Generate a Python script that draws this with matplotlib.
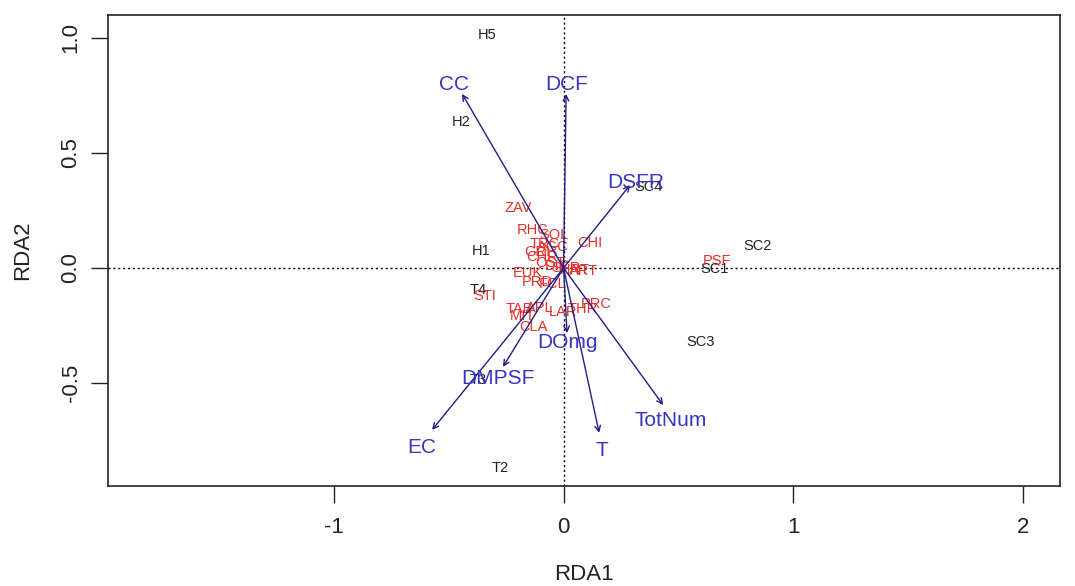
import matplotlib
matplotlib.use("Agg")
import matplotlib.pyplot as plt

# site scores (black labels)
sites = ["H5", "H2", "H1", "SC4", "SC2", "SC1", "SC3", "T4", "T3", "T2"]
site_x = [-0.333, -0.447, -0.359, 0.368, 0.843, 0.658, 0.595, -0.373, -0.373, -0.277]
site_y = [1.013, 0.635, 0.074, 0.352, 0.096, -0.004, -0.322, -0.096, -0.487, -0.870]

# species scores (red labels)
species = ["ZAV", "RHC", "SOL", "CHI", "TRC", "AGC", "GRI", "CHR", "OST", "DIC",
           "SFR", "HRT", "ART", "EUK", "PRD", "FCL", "STI", "TAB", "APL", "MIT",
           "LAR", "THR", "PRC", "CLA", "PSF"]
spec_x = [-0.198, -0.137, -0.041, 0.115, -0.081, -0.046, -0.115, -0.094, -0.059, -0.028,
          0.011, 0.050, 0.089, -0.155, -0.115, -0.046, -0.342, -0.194, -0.102, -0.181,
          -0.002, 0.085, 0.142, -0.133, 0.669]
spec_y = [0.261, 0.165, 0.143, 0.109, 0.104, 0.091, 0.070, 0.048, 0.022, 0.009,
          0.000, -0.009, -0.013, -0.022, -0.061, -0.070, -0.122, -0.178, -0.174, -0.209,
          -0.191, -0.178, -0.157, -0.257, 0.030]

# environmental vectors (blue arrows)
env = ["CC", "DCF", "DSFR", "TotNum", "T", "EC", "DMPSF", "DOmg"]
env_x = [-0.442, 0.011, 0.290, 0.434, 0.155, -0.573, -0.264, 0.015]
env_y = [0.757, 0.757, 0.361, -0.596, -0.717, -0.704, -0.430, -0.283]

font = ["Liberation Sans Narrow", "Liberation Sans", "DejaVu Sans"]
plt.rcParams["font.family"] = font

fig = plt.figure(figsize=(10.75, 5.86), dpi=100)
ax = fig.add_axes([108 / 1075, 1 - 486 / 586, 952 / 1075, 471 / 586])
ax.set_xlim(-1.985, 2.163)
ax.set_ylim(-0.948, 1.10)

ax.axhline(0, color="black", lw=1, ls=(0, (1.5, 2)))
ax.axvline(0, color="black", lw=1, ls=(0, (1.5, 2)))

for lab, x, y in zip(sites, site_x, site_y):
    ax.text(x, y, lab, color="#222222", fontsize=10.5, ha="center", va="center")

for lab, x, y in zip(species, spec_x, spec_y):
    ax.text(x, y, lab, color="#e0302a", fontsize=10.5, ha="center", va="center")

mul = 1.08
for lab, x, y in zip(env, env_x, env_y):
    ax.annotate("", xy=(x, y), xytext=(0, 0),
                arrowprops=dict(arrowstyle="->", color="#1e1e88", lw=1,
                                shrinkA=0, shrinkB=0, mutation_scale=10))
    ax.annotate(lab, xy=(x * mul, y * mul), xytext=(0, -3),
                textcoords="offset points", color="#3636c0", fontsize=15,
                ha="center", va="center")

ax.set_xticks([-1, 0, 1, 2])
ax.set_xticklabels(["-1", "0", "1", "2"])
ax.set_yticks([-0.5, 0.0, 0.5, 1.0])
ax.set_yticklabels(["-0.5", "0.0", "0.5", "1.0"], rotation=90, va="center")
ax.tick_params(axis="x", length=12, width=1, labelsize=16, pad=10, colors="#222222")
ax.tick_params(axis="y", length=12, width=1, labelsize=16, pad=7, colors="#222222")
ax.set_xlabel("RDA1", fontsize=16, labelpad=19, color="#222222")
ax.set_ylabel("RDA2", fontsize=16, labelpad=20, color="#222222")
for s in ax.spines.values():
    s.set_linewidth(1.2)
    s.set_color("#222222")

fig.savefig("out.png", dpi=100)
